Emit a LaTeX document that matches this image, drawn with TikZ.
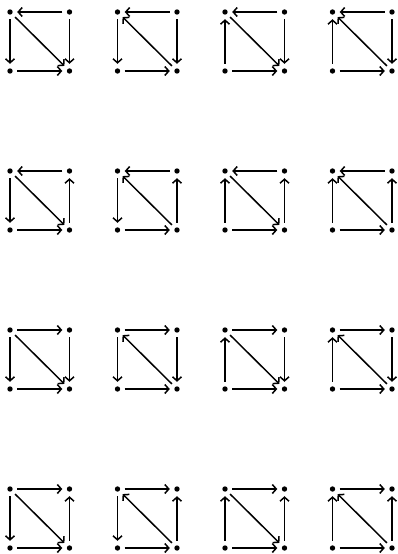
\documentclass[tikz,border=0pt]{standalone}
\usetikzlibrary{arrows.meta}
\tikzset{
 vtx/.style={circle, minimum size=14pt, inner sep=0pt,
   path picture={\fill[black] (path picture bounding box.center) circle (2.7pt);}},
 arr/.style={line width=1.5pt, -{Straight Barb[length=4pt,width=9pt]}},
}
\begin{document}
\begin{tikzpicture}[x=1pt,y=-1pt]
\useasboundingbox (0,0) rectangle (398,554);
\foreach \r/\y/\tf/\tt/\rf/\rt in {1/12/TR/TL/TR/BR, 2/171/TR/TL/BR/TR, 3/330/TL/TR/TR/BR, 4/489/TL/TR/BR/TR}{
 \foreach \c/\x/\lf/\lt/\df/\dt in {1/10/TL/BL/TL/BR, 2/117.5/TL/BL/BR/TL, 3/225/BL/TL/TL/BR, 4/332.5/BL/TL/BR/TL}{
  \node[vtx] (TL-\r-\c) at (\x,\y) {};
  \node[vtx] (TR-\r-\c) at (\x+59.5,\y) {};
  \node[vtx] (BL-\r-\c) at (\x,\y+59) {};
  \node[vtx] (BR-\r-\c) at (\x+59.5,\y+59) {};
  \draw[arr] (\tf-\r-\c) -- (\tt-\r-\c);
  \draw[arr] (\rf-\r-\c) -- (\rt-\r-\c);
  \draw[arr] (\lf-\r-\c) -- (\lt-\r-\c);
  \draw[arr] (\df-\r-\c) -- (\dt-\r-\c);
  \draw[arr] (BL-\r-\c) -- (BR-\r-\c);
 }}
\end{tikzpicture}
\end{document}
